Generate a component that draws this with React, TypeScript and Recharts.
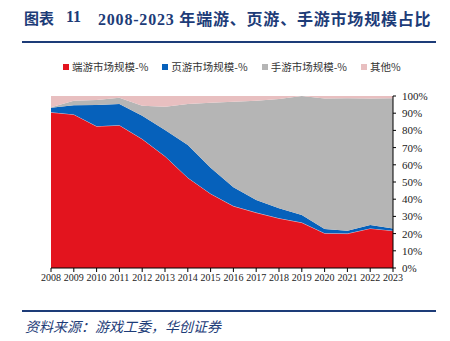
import { AreaChart, Area, XAxis, YAxis } from "recharts"

const years = ["2008", "2009", "2010", "2011", "2012", "2013", "2014", "2015", "2016", "2017", "2018", "2019", "2020", "2021", "2022", "2023"]
const pcClient = [90.5, 89.3, 82.4, 83.0, 75.0, 65.0, 52.5, 43.2, 36.0, 32.2, 28.9, 26.4, 20.2, 20.0, 23.0, 21.7]
const webGame = [2.7, 5.3, 12.4, 12.3, 13.5, 15.2, 19.0, 15.1, 11.0, 7.3, 5.8, 4.4, 2.5, 1.7, 2.0, 1.3]
const mobile = [0.3, 2.7, 2.9, 3.7, 5.9, 13.6, 23.8, 37.8, 49.7, 57.8, 63.6, 69.2, 75.9, 77.0, 73.6, 75.7]
const other = [6.5, 2.7, 2.3, 1.0, 5.6, 6.2, 4.7, 3.9, 3.3, 2.7, 1.7, 0.4, 1.4, 1.3, 1.4, 1.3]
const yTicks = [0, 10, 20, 30, 40, 50, 60, 70, 80, 90, 100]

const series = [
  { key: "pc", name: "端游市场规模-%", color: "#e3141e" },
  { key: "web", name: "页游市场规模-%", color: "#0661bb" },
  { key: "mobile", name: "手游市场规模-%", color: "#b5b5b5" },
  { key: "other", name: "其他%", color: "#e8bfc0" },
]

const data = years.map((year, i) => ({
  year,
  pc: pcClient[i],
  web: webGame[i],
  mobile: mobile[i],
  other: other[i],
}))

const navy = "#1d3c78"
const serif = "'Liberation Serif', 'Noto Sans CJK SC', serif"

export default function App() {
  return (
    <div style={{ position: "absolute", left: 0, top: 0, width: 450, height: 341, background: "#fff", overflow: "hidden" }}>
      {/* title */}
      <div style={{ position: "absolute", left: 24, top: 7, fontFamily: serif, fontWeight: "bold", fontSize: 15, color: navy, whiteSpace: "nowrap" }}>
        图表
      </div>
      <div style={{ position: "absolute", left: 66, top: 8, fontFamily: serif, fontWeight: "bold", fontSize: 16, color: navy, whiteSpace: "nowrap" }}>
        11
      </div>
      <div
        style={{
          position: "absolute",
          left: 98,
          top: 6,
          fontFamily: serif,
          fontWeight: "bold",
          fontSize: 16,
          letterSpacing: 0.8,
          color: navy,
          whiteSpace: "nowrap",
        }}
      >
        2008-2023 年端游、页游、手游市场规模占比
      </div>
      <div style={{ position: "absolute", left: 22, top: 41, width: 414, height: 2, background: navy }} />

      {/* legend */}
      <div style={{ position: "absolute", top: 59, left: 63, display: "flex", fontFamily: "'Noto Sans CJK SC', sans-serif", fontSize: 10.5, color: "#333" }}>
        {series.map((s) => (
          <div key={s.key} style={{ display: "flex", alignItems: "center", marginRight: 14, whiteSpace: "nowrap" }}>
            <span style={{ display: "inline-block", width: 6, height: 6, background: s.color, marginRight: 3 }} />
            {s.name}
          </div>
        ))}
      </div>

      <div style={{ position: "absolute", left: 0, top: 0 }}>
        <AreaChart width={450} height={341} data={data} margin={{ top: 96, right: 0, bottom: 53, left: 51 }}>
          <XAxis
            dataKey="year"
            tick={{ fontSize: 10, fill: "#222", fontFamily: serif }}
            tickLine={{ stroke: "#000" }}
            tickSize={4}
            axisLine={{ stroke: "#000" }}
            interval={0}
            height={20}
            tickMargin={2}
          />
          <YAxis
            orientation="right"
            domain={[0, 100]}
            ticks={yTicks}
            tickFormatter={(v) => `${v}%`}
            tick={{ fontSize: 11, fill: "#222", fontFamily: serif, textAnchor: "start" }}
            tickLine={{ stroke: "#000" }}
            tickSize={3}
            axisLine={{ stroke: "#000" }}
            width={57}
            allowDataOverflow
            tickMargin={6}
          />
          {series.map((s) => (
            <Area
              key={s.key}
              type="linear"
              dataKey={s.key}
              stackId="1"
              fill={s.color}
              fillOpacity={1}
              stroke={s.key === "pc" ? "#ffffff" : s.color}
              strokeWidth={s.key === "pc" ? 0.6 : 0}
              isAnimationActive={false}
              dot={false}
              activeDot={false}
            />
          ))}
        </AreaChart>
      </div>

      {/* source */}
      <div style={{ position: "absolute", left: 22, top: 310, width: 414, height: 2, background: navy }} />
      <div
        style={{
          position: "absolute",
          left: 25,
          top: 316,
          fontFamily: "'Noto Sans CJK SC', sans-serif",
          fontStyle: "italic",
          fontSize: 14,
          color: navy,
          whiteSpace: "nowrap",
        }}
      >
        资料来源：游戏工委，华创证券
      </div>
    </div>
  )
}
